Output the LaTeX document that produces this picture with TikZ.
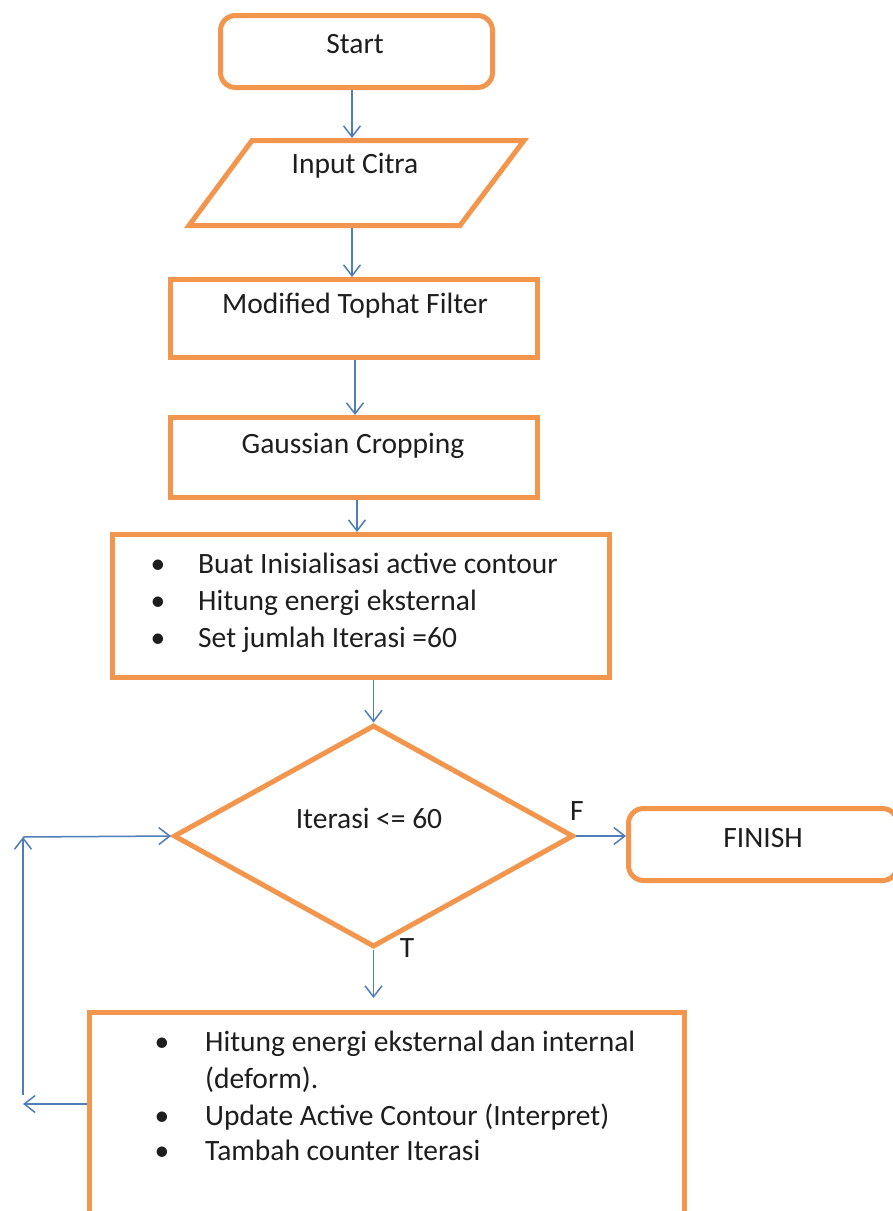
\documentclass[tikz,border=0pt]{standalone}
\usepackage{fontspec}
\setmainfont{Carlito}
\usetikzlibrary{arrows.meta,shapes.geometric,calc}
\definecolor{boxorange}{RGB}{242,150,78}
\definecolor{linkblue}{RGB}{79,125,186}
\definecolor{inkgray}{RGB}{30,30,30}
\begin{document}
\begin{tikzpicture}[x=1pt,y=-1pt,
  obox/.style={draw=boxorange,line width=5pt,fill=white,inner sep=0pt},
  rbox/.style={obox,rounded corners=15pt},
  sbox/.style={obox,rectangle},
  dbox/.style={obox,diamond},
  txt/.style={inner sep=0pt,text=inkgray,font=\fontsize{29.5}{37}\selectfont},
  lab/.style={txt,anchor=base},
  item/.style={txt,anchor=base west},
  arr/.style={draw=linkblue,line width=1.5pt,-{Straight Barb[length=11pt,width=17pt,line width=1.5pt]}},
  ghost/.style={inner sep=0pt,outer sep=0pt}]
\useasboundingbox (0,0) rectangle (893,1211);
\fill[white] (0,0) rectangle (893,1211);

% start terminal
\node[rbox,minimum width=272pt,minimum height=72pt] (start) at (356.5,51.5) {};
\node[lab] (startT) at (355,53) {Start};

% input parallelogram
\node[ghost,minimum width=270pt,minimum height=90pt] (inp) at (356,183) {};
\draw[draw=boxorange,line width=5pt,line join=miter] (252,140.5) -- (524,140.5) -- (460,225.5) -- (189,225.5) -- cycle;
\node[lab] (inpT) at (355,173) {Input Citra};

% processing steps
\node[sbox,minimum width=367pt,minimum height=78pt] (tophat) at (354,318.5) {};
\node[lab] (tophatT) at (355,313) {Modified Tophat Filter};

\node[sbox,minimum width=367pt,minimum height=80pt] (gauss) at (354,457.5) {};
\node[lab] (gaussT) at (353,453) {Gaussian Cropping};

\node[sbox,minimum width=497pt,minimum height=143pt] (init) at (361,606) {};
\node[txt,anchor=base] (b1) at (158,573) {•};
\node[item] (i1) at (198,573) {Buat Inisialisasi active contour};
\node[txt,anchor=base] (b2) at (158,610) {•};
\node[item] (i2) at (198,610) {Hitung energi eksternal};
\node[txt,anchor=base] (b3) at (158,647) {•};
\node[item] (i3) at (198,647) {Set jumlah Iterasi =60};

% decision
\node[dbox,minimum width=400pt,minimum height=222pt] (dia) at (373.5,836) {};
\node[lab] (diaT) at (369,828) {Iterasi <= 60};
\node[lab] (labF) at (577,820) {F};
\node[lab] (labT) at (407,957) {T};

% finish terminal
\node[rbox,minimum width=269pt,minimum height=72pt] (finish) at (763,844.5) {};
\node[lab] (finishT) at (763,847) {FINISH};

% loop body
\node[sbox,minimum width=595pt,minimum height=205pt] (loop) at (387,1115) {};
\node[txt,anchor=base] (c1) at (162,1051) {•};
\node[item] (j1) at (205,1051) {Hitung energi eksternal dan internal};
\node[item] (j1b) at (205,1088) {(deform).};
\node[txt,anchor=base] (c2) at (162,1125) {•};
\node[item] (j2) at (205,1125) {Update Active Contour (Interpret)};
\node[txt,anchor=base] (c3) at (162,1160) {•};
\node[item] (j3) at (205,1160) {Tambah counter Iterasi};

% feedback path corners
\coordinate (fbA) at (23,1104);
\coordinate (fbB) at (23,1095);
\coordinate (fbC) at (23,837);

% connectors
\draw[arr] ([xshift=-4.5pt]start.south) -- ([xshift=-4pt]inp.north);
\draw[arr] ([xshift=-4pt]inp.south) -- ([xshift=-2pt]tophat.north);
\draw[arr] ([xshift=1pt]tophat.south) -- ([xshift=1pt]tophat.south |- gauss.north);
\draw[arr] ([xshift=3pt]gauss.south) -- ([xshift=3pt]gauss.south |- init.north);
\draw[arr] (init.south -| dia.north) -- (dia.north);
\draw[arr,shorten >=12pt] (dia.south) -- (dia.south |- loop.north);
\draw[arr] (dia.east) -- (dia.east -| finish.west);
\draw[arr] ([yshift=11pt]loop.west) -- (fbA);
\draw[arr] (fbB) -- (fbC);
\draw[arr] (fbC) -- (dia.west);
\end{tikzpicture}
\end{document}
